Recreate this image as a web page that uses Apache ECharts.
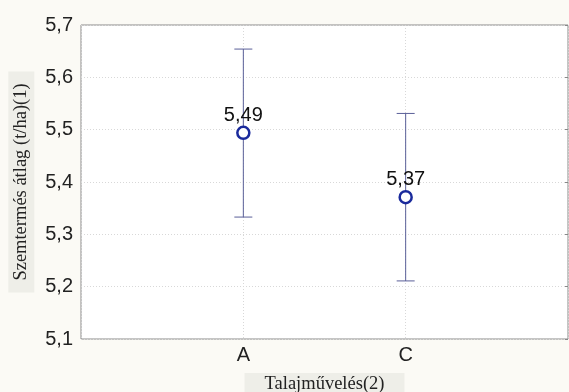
<!DOCTYPE html>
<html><head><meta charset="utf-8">
<script src="https://cdn.jsdelivr.net/npm/echarts@6/dist/echarts.min.js"></script>
<style>html,body{margin:0;padding:0;background:#fbfaf5}#c{width:569px;height:392px}</style>
</head><body><div id="c"></div>
<script>
const categories = ['A', 'C'];
const categoryPos = [1, 2];
const means = [5.494, 5.371];
const meanLabels = ['5,49', '5,37'];
const upper = [5.654, 5.531];
const lower = [5.333, 5.211];
const yTicks = [5.1, 5.2, 5.3, 5.4, 5.5, 5.6, 5.7];

const chart = echarts.init(document.getElementById('c'), null, {renderer: 'canvas'});
const font = '"Liberation Sans", Arial, sans-serif';
const serif = '"Liberation Serif", "Times New Roman", serif';

const meanData = categories.map((c, i) => [categoryPos[i], means[i], meanLabels[i]]);
const errData = categories.map((c, i) => [categoryPos[i], lower[i], upper[i]]);

chart.setOption({
  animation: false,
  backgroundColor: '#fbfaf5',
  grid: {left: 81, right: 1, top: 25, bottom: 53, containLabel: false, outerBoundsMode: 'none',
    show: true, backgroundColor: '#ffffff', borderColor: '#8a8a8a', borderWidth: 1},
  xAxis: {
    type: 'value', min: 0, max: 3, interval: 1,
    axisLine: {show: false}, axisTick: {show: false},
    axisLabel: {color: '#222', fontSize: 20, fontFamily: font, margin: 6,
      formatter: v => { const i = categoryPos.indexOf(v); return i >= 0 ? categories[i] : ''; }},
    splitLine: {show: true, lineStyle: {color: '#d8d8d8', type: [1, 2]}},
    name: 'Talajművelés(2)', nameLocation: 'middle', nameGap: 34,
    nameTextStyle: {fontFamily: serif, fontSize: 18.5, color: '#222', backgroundColor: '#eeeee8', padding: [1, 20, 1, 20], lineHeight: 20}
  },
  yAxis: [{
    type: 'value', min: 5.1, max: 5.7, interval: 0.1,
    axisLine: {show: false}, axisTick: {show: false},
    axisLabel: {color: '#222', fontSize: 20, fontFamily: font, margin: 8,
      formatter: v => v.toFixed(1).replace('.', ',')},
    splitLine: {show: true, lineStyle: {color: '#d8d8d8', type: [1, 2]}},
    name: 'Szemtermés átlag (t/ha)(1)', nameLocation: 'middle', nameGap: 40, nameRotate: 90,
    nameTextStyle: {fontFamily: serif, fontSize: 18.5, color: '#222', backgroundColor: '#eeeee8', padding: [2, 12, 2, 12], lineHeight: 22}
  }, {
    type: 'value', min: 5.1, max: 5.7, interval: 0.1, position: 'right',
    axisLine: {show: false}, axisLabel: {show: false}, splitLine: {show: false},
    axisTick: {show: true, inside: true, length: 3, lineStyle: {color: '#888'}}
  }],
  series: [{
    type: 'custom',
    data: errData,
    z: 2,
    renderItem: (params, api) => {
      const x = api.value(0);
      const lo = api.coord([x, api.value(1)]);
      const hi = api.coord([x, api.value(2)]);
      const hw = 9;
      const st = {stroke: '#5a5f98', lineWidth: 1};
      return {type: 'group', children: [
        {type: 'line', shape: {x1: lo[0], y1: lo[1], x2: hi[0], y2: hi[1]}, style: st},
        {type: 'line', shape: {x1: lo[0]-hw, y1: lo[1], x2: lo[0]+hw, y2: lo[1]}, style: st},
        {type: 'line', shape: {x1: hi[0]-hw, y1: hi[1], x2: hi[0]+hw, y2: hi[1]}, style: st}
      ]};
    }
  }, {
    type: 'scatter',
    data: meanData,
    z: 5,
    symbol: 'circle', symbolSize: 12,
    itemStyle: {color: '#ffffff', borderColor: '#1a2a9c', borderWidth: 2.5, opacity: 1},
    label: {show: true, position: 'top', distance: 0, color: '#111', fontSize: 20, fontFamily: font,
      formatter: p => p.data[2]}
  }]
});
</script></body></html>
